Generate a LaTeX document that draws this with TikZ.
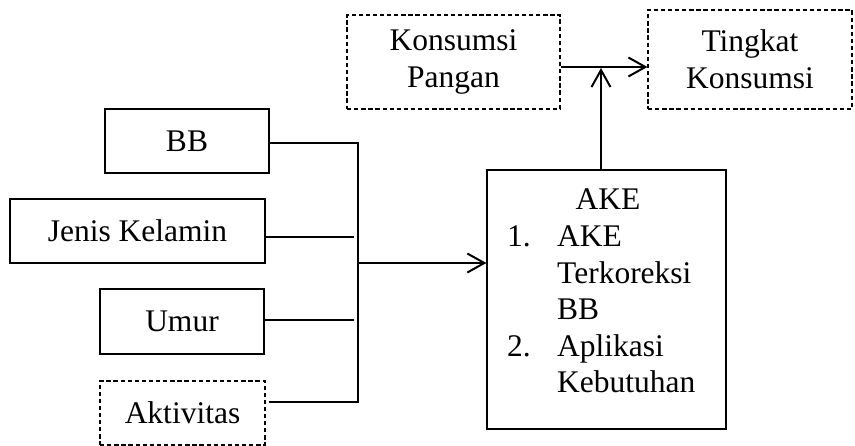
\documentclass[tikz,border=0pt]{standalone}
\usepackage{fontspec}
\setmainfont{Liberation Serif}
\usetikzlibrary{arrows.meta}
\begin{document}
\begin{tikzpicture}[x=1pt,y=-1pt,
  txt/.style={font=\fontsize{31.5}{36.6}\selectfont, align=center},
  box/.style={txt, draw, line width=1.2pt, inner sep=0pt},
  dbox/.style={box, line width=1.1pt, dash pattern=on 4.3pt off 2.8pt},
  conn/.style={line width=2pt},
  arr/.style={conn, -{Straight Barb[length=17pt,width=19pt,line width=2pt]}},
  item/.style={font=\fontsize{31.5}{36.6}\selectfont, inner sep=0pt, anchor=base west}
]
\useasboundingbox (0,0) rectangle (855,446);

% boxes
\node[dbox, minimum width=213, minimum height=94] (kp) at (453.5,62) {Konsumsi\\Pangan};
\node[dbox, minimum width=204, minimum height=99] (tk) at (750,59.5) {Tingkat\\Konsumsi};
\node[box, minimum width=164, minimum height=64] (bb) at (187,141) {BB};
\node[box, minimum width=255, minimum height=64] (jk) at (137.5,231) {Jenis Kelamin};
\node[box, minimum width=164, minimum height=65] (um) at (182,321.5) {Umur};
\node[dbox, minimum width=165, minimum height=64] (akt) at (182.5,413) {Aktivitas};
\node[box, minimum width=239, minimum height=259] (ake) at (606.5,299.5) {};

% AKE content
\node[item, anchor=base] (aket) at (608,210) {AKE};
\node[item] (n1) at (507,246.6) {1.};
\node[item] (i1a) at (557,246.6) {AKE};
\node[item] (i1b) at (557,283.2) {Terkoreksi};
\node[item] (i1c) at (557,319.8) {BB};
\node[item] (n2) at (507,356.4) {2.};
\node[item] (i2a) at (557,356.4) {Aplikasi};
\node[item] (i2b) at (557,393) {Kebutuhan};

% bus
\coordinate (bustop) at (358,143);
\coordinate (busbot) at (358,402);
\coordinate (busmid) at (358,263);
\coordinate (jkend) at (354,237);
\coordinate (umend) at (354,320);
\coordinate (aktend) at (269,402);
\draw[conn] (bb.east |- bustop) -- (bustop) -- (busbot) -- (aktend);
\draw[conn] (jk.east |- jkend) -- (jkend);
\draw[conn] (um.east |- umend) -- (umend);
\draw[arr] (busmid) -- (ake.west |- busmid);

% top arrows
\coordinate (toparr) at (560,67);
\coordinate (uptip) at (601,68);
\draw[arr] (kp.east |- toparr) -- (tk.west |- toparr);
\draw[arr] (ake.north -| uptip) -- (uptip);
\end{tikzpicture}
\end{document}
